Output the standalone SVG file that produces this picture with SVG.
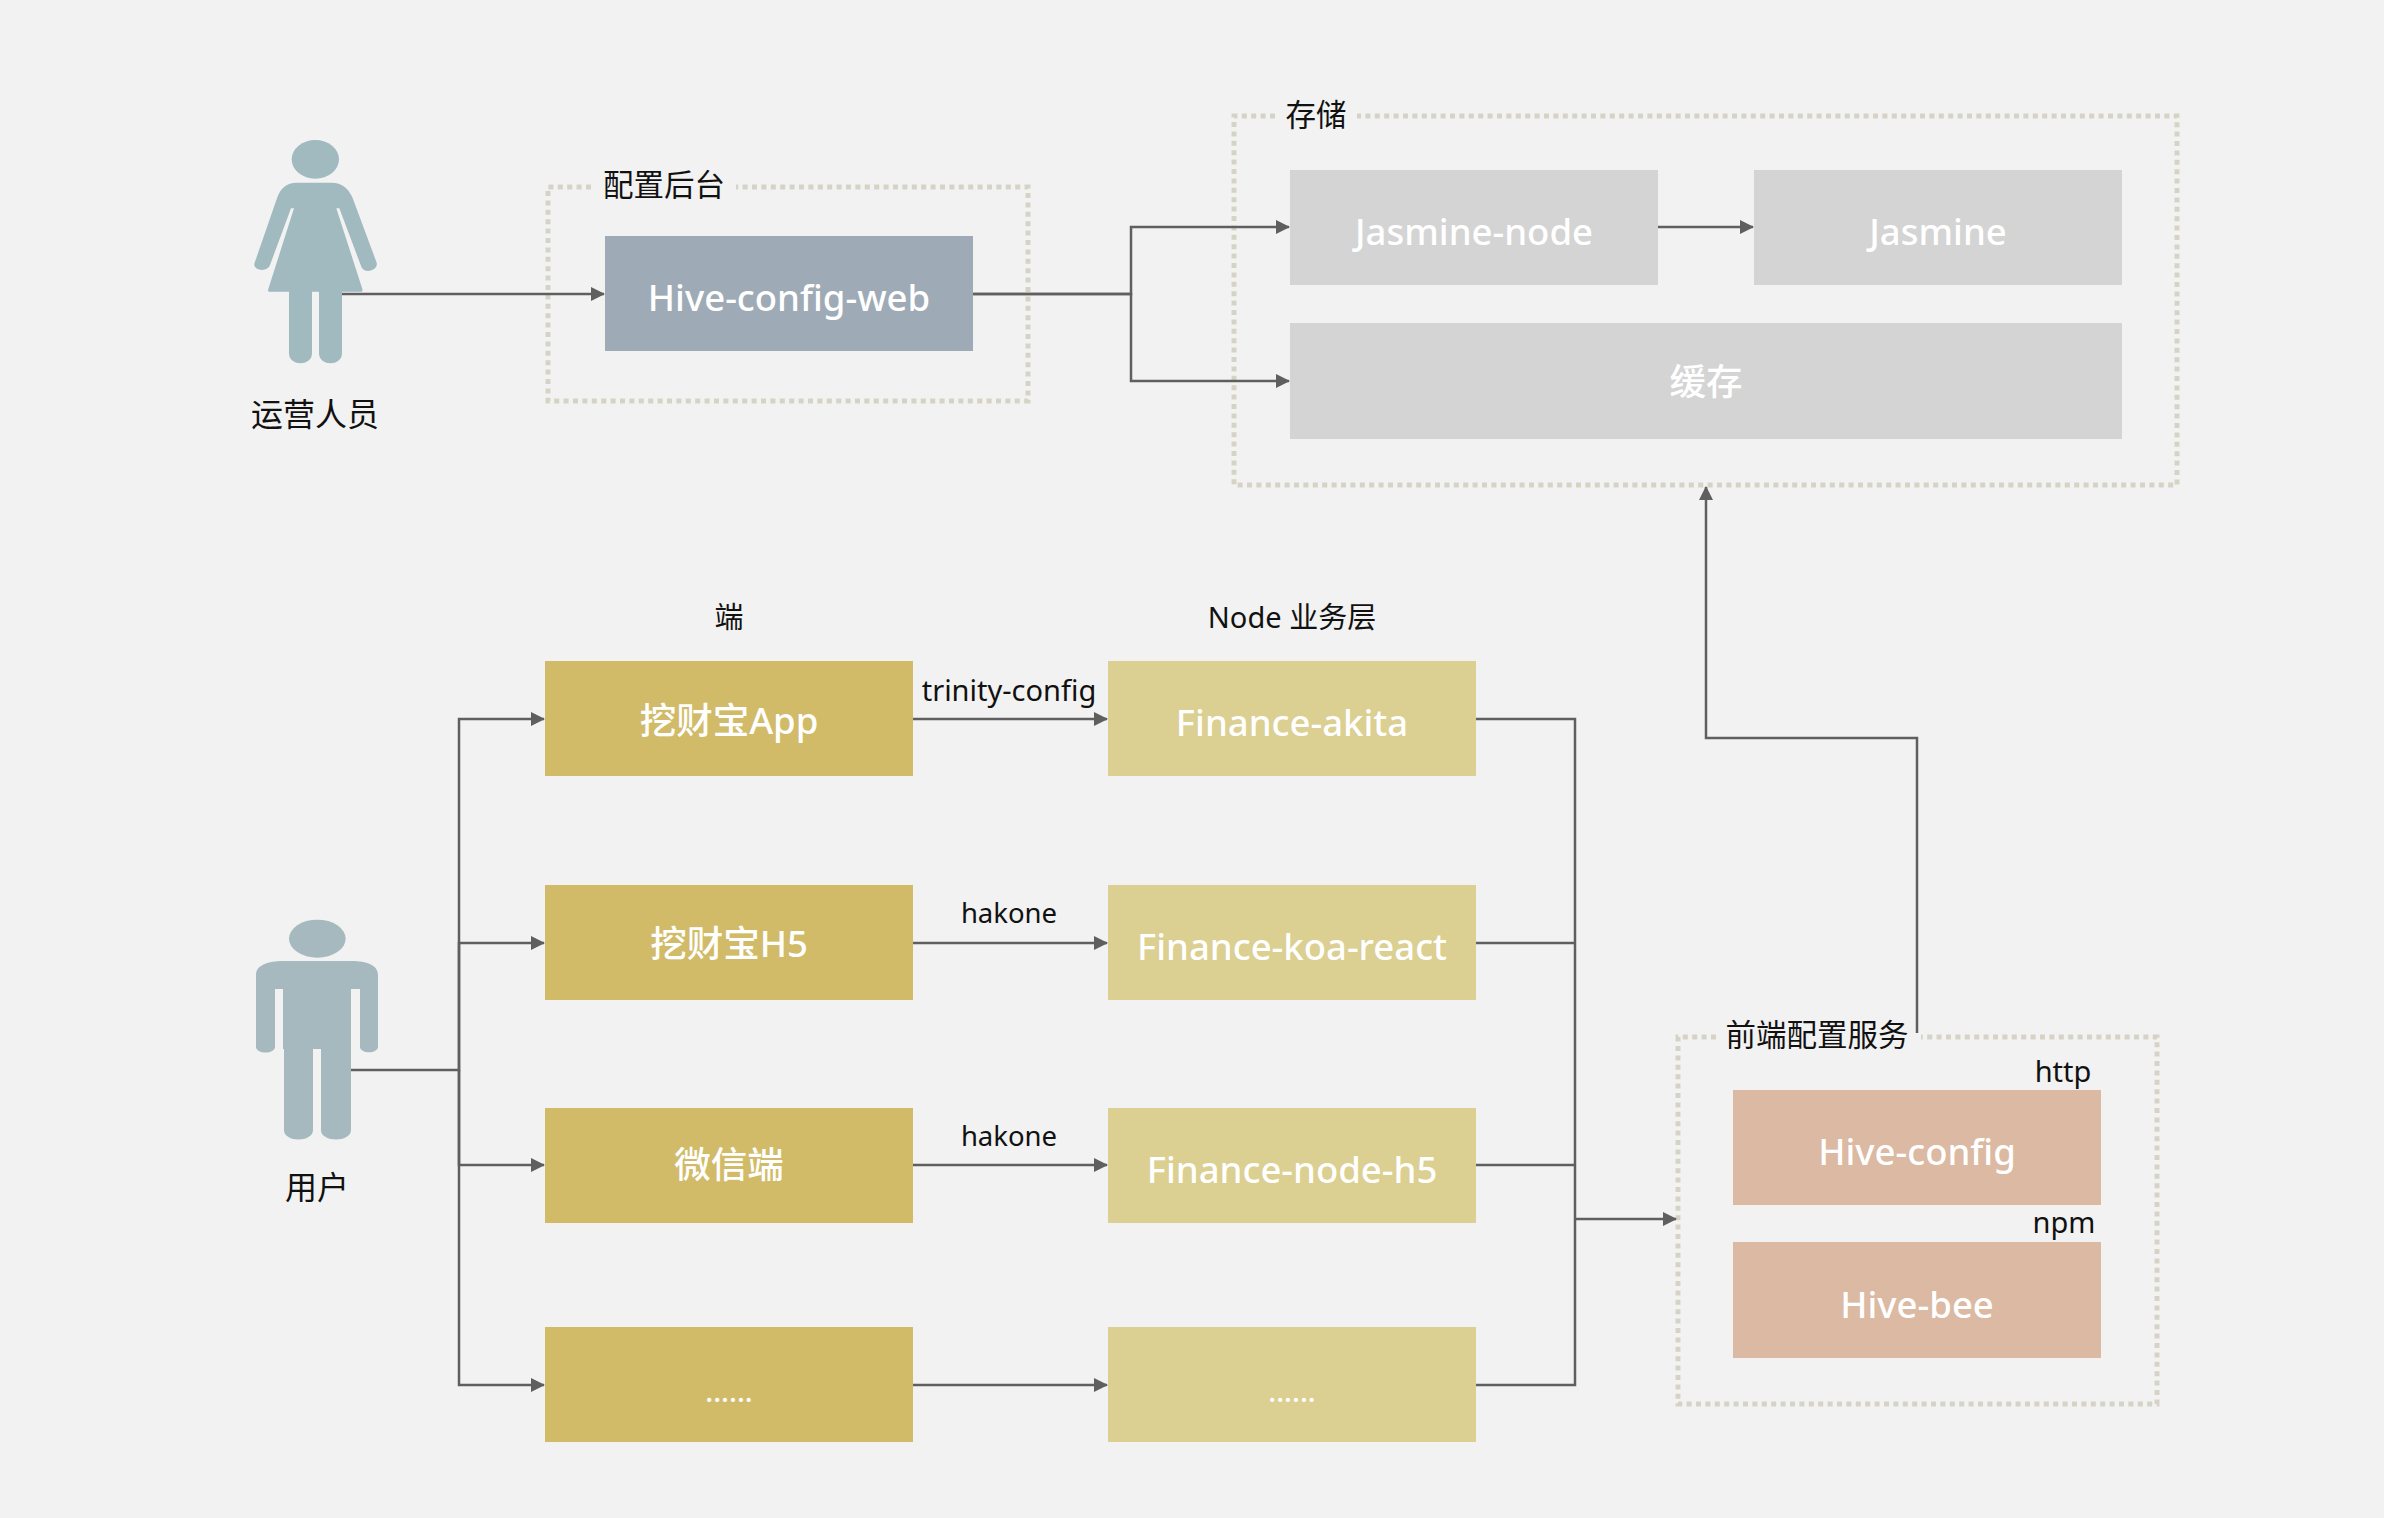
<svg xmlns="http://www.w3.org/2000/svg" width="2384" height="1518" viewBox="0 0 2384 1518">
<style>
text{font-family:"Noto Sans","Noto Sans CJK SC",sans-serif;text-anchor:middle}
.w{fill:#fff;font-size:36.5px;font-weight:500}
.d{fill:#111;font-size:29px}
.e{fill:#111;font-size:30.5px}
.p{fill:#111;font-size:32px}
.c{fill:none;stroke:#5f5f5f;stroke-width:2.5}
.g{fill:none;stroke:#d5d3c5;stroke-width:5;stroke-dasharray:5 4.4}
.y1{fill:#d1bb69}.y2{fill:#dbcf91}.gr{fill:#d4d4d4}.tn{fill:#dbb9a2}
</style>
<defs><marker id="a" markerUnits="userSpaceOnUse" markerWidth="14" markerHeight="14" refX="13" refY="7" orient="auto"><path d="M0,0L14,7L0,14Z" fill="#5f5f5f"/></marker></defs>
<rect width="2384" height="1518" fill="#f2f2f2"/>
<g id="group-config"><path class="g" d="M591,187H548V401H1028V187H736"/><text class="e" x="664" y="196">配置后台</text></g>
<g id="group-storage"><path class="g" d="M1275,116H1234V485H2177V116H1357"/><text class="e" x="1316" y="126">存储</text></g>
<g id="group-front"><path class="g" d="M1716,1037H1678V1404H2157V1037H1921"/><text class="e" x="1817" y="1046">前端配置服务</text></g>
<g id="connectors">
<path class="c" marker-end="url(#a)" d="M342,294H604"/>
<path class="c" marker-end="url(#a)" d="M973,294H1131V227H1289"/>
<path class="c" marker-end="url(#a)" d="M973,294H1131V381H1289"/>
<path class="c" marker-end="url(#a)" d="M1658,227H1753"/>
<path class="c" marker-end="url(#a)" d="M351,1070H459V719H544"/>
<path class="c" marker-end="url(#a)" d="M459,1070V943H544"/>
<path class="c" marker-end="url(#a)" d="M459,1070V1165H544"/>
<path class="c" marker-end="url(#a)" d="M459,1070V1385H544"/>
<path class="c" marker-end="url(#a)" d="M913,719H1107"/>
<path class="c" marker-end="url(#a)" d="M913,943H1107"/>
<path class="c" marker-end="url(#a)" d="M913,1165H1107"/>
<path class="c" marker-end="url(#a)" d="M913,1385H1107"/>
<path class="c" d="M1476,719H1575V1385H1476M1476,943H1575M1476,1165H1575"/>
<path class="c" marker-end="url(#a)" d="M1575,1219H1676"/>
<path class="c" marker-end="url(#a)" d="M1917,1033V738H1706V487"/>
</g>
<g id="woman" fill="#a0babf"><g transform="translate(220,110) scale(.33333)"><ellipse cx="286" cy="148" rx="71" ry="58"/><path d="M230,218H335C365,218 385,235 397,262L470,458C476,480 435,495 424,470L358,295H349L428,540L425,545H366V730C366,770 297,770 297,730V545H276V730C276,770 207,770 207,730V545H146L144,540L222,295H213L150,465C140,490 95,480 104,458L172,262C182,235 200,218 230,218Z"/></g><text class="p" x="315" y="426">运营人员</text></g>
<g id="man" fill="#a6b9be"><g transform="translate(220,890) scale(.33333)"><ellipse cx="292" cy="146" rx="85" ry="57"/><path d="M190,213H395C440,213 474,225 474,255V470C474,492 420,492 420,470V297H393V720C393,758 303,758 303,720V477H279V720C279,758 192,758 192,720V477H189V297H165V470C165,493 108,493 108,470V255C108,225 145,213 190,213Z"/></g><text class="p" x="317" y="1199">用户</text></g>
<g id="hive-config-web"><rect x="605" y="236" width="368" height="115" fill="#9eabb6"/><text class="w" x="789" y="311">Hive-config-web</text></g>
<g id="jasmine-node"><rect class="gr" x="1290" y="170" width="368" height="115"/><text class="w" x="1474" y="245">Jasmine-node</text></g>
<g id="jasmine"><rect class="gr" x="1754" y="170" width="368" height="115"/><text class="w" x="1938" y="245">Jasmine</text></g>
<g id="cache"><rect class="gr" x="1290" y="323" width="832" height="116"/><text class="w" x="1706" y="395">缓存</text></g>
<text class="d" x="729" y="628">端</text>
<text class="d" x="1292" y="628">Node 业务层</text>
<g id="app"><rect class="y1" x="545" y="661" width="368" height="115"/><text class="w" x="729" y="734">挖财宝App</text></g>
<g id="h5"><rect class="y1" x="545" y="885" width="368" height="115"/><text class="w" x="729" y="957">挖财宝H5</text></g>
<g id="wechat"><rect class="y1" x="545" y="1108" width="368" height="115"/><text class="w" x="729" y="1178">微信端</text></g>
<g id="more1"><rect class="y1" x="545" y="1327" width="368" height="115"/><text class="w" x="729" y="1402" style="font-size:29px">......</text></g>
<g id="akita"><rect class="y2" x="1108" y="661" width="368" height="115"/><text class="w" x="1292" y="736">Finance-akita</text></g>
<g id="koa"><rect class="y2" x="1108" y="885" width="368" height="115"/><text class="w" x="1292" y="960">Finance-koa-react</text></g>
<g id="nodeh5"><rect class="y2" x="1108" y="1108" width="368" height="115"/><text class="w" x="1292" y="1183">Finance-node-h5</text></g>
<g id="more2"><rect class="y2" x="1108" y="1327" width="368" height="115"/><text class="w" x="1292" y="1402" style="font-size:29px">......</text></g>
<text class="d" x="1009" y="701">trinity-config</text>
<text class="d" x="1009" y="923" style="font-size:27.5px">hakone</text>
<text class="d" x="1009" y="1146" style="font-size:27.5px">hakone</text>
<g id="hive-config"><rect class="tn" x="1733" y="1090" width="368" height="115"/><text class="w" x="1917" y="1165">Hive-config</text></g>
<g id="hive-bee"><rect class="tn" x="1733" y="1242" width="368" height="116"/><text class="w" x="1917" y="1318">Hive-bee</text></g>
<text class="d" x="2063" y="1082">http</text>
<text class="d" x="2064" y="1233">npm</text>
</svg>
